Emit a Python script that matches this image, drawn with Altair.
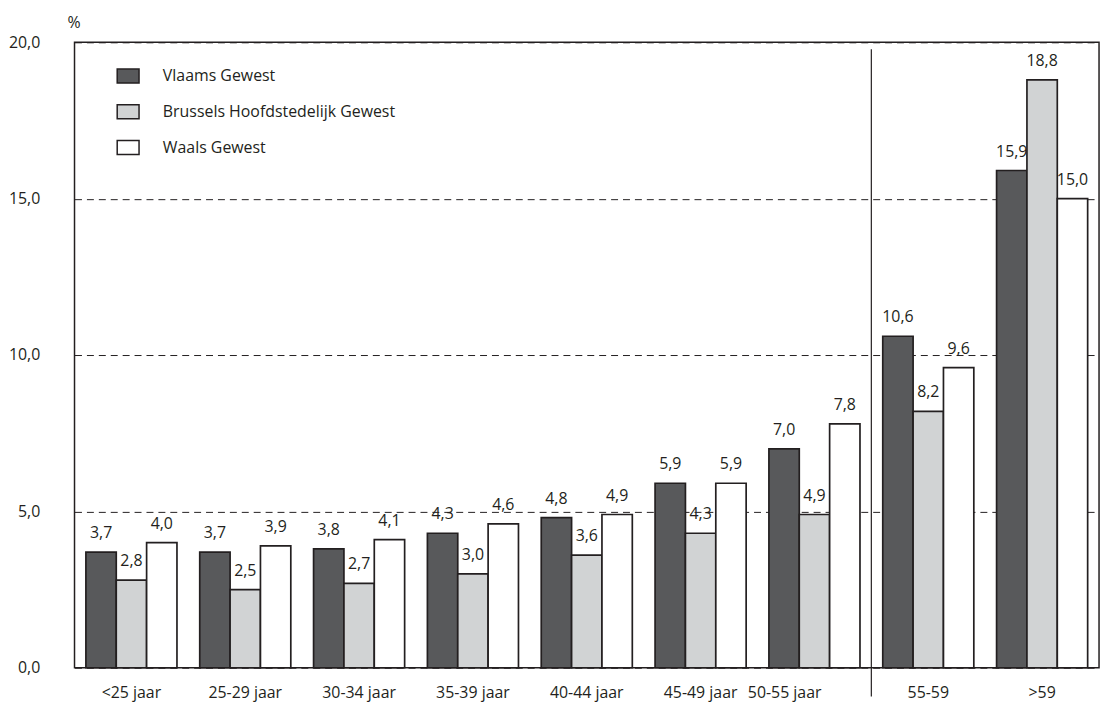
import altair as alt
import pandas as pd

groups = ["<25 jaar", "25-29 jaar", "30-34 jaar", "35-39 jaar", "40-44 jaar",
          "45-49 jaar", "50-55 jaar", "55-59", ">59"]
series = ["Vlaams Gewest", "Brussels Hoofdstedelijk Gewest", "Waals Gewest"]
vlaams = [3.7, 3.7, 3.8, 4.3, 4.8, 5.9, 7.0, 10.6, 15.9]
brussel = [2.8, 2.5, 2.7, 3.0, 3.6, 4.3, 4.9, 8.2, 18.8]
waals = [4.0, 3.9, 4.1, 4.6, 4.9, 5.9, 7.8, 9.6, 15.0]
y_ticks = [0, 5, 10, 15, 20]
separator_before = ["55-59"]

rows = []
for s, vals in zip(series, [vlaams, brussel, waals]):
    for g, v in zip(groups, vals):
        rows.append({"groep": g, "gewest": s, "waarde": v})
df = pd.DataFrame(rows)

FONT = "Open Sans"
INK = "#231f20"
FS = 16

x_scale = alt.Scale(domain=groups, paddingInner=0.2, paddingOuter=0.1)
y_scale = alt.Scale(domain=[0, 20], nice=False)

x_axis = alt.Axis(title=None, ticks=False, domain=False, labelAngle=0,
                  labelFontSize=FS, labelFont=FONT, labelColor=INK, labelPadding=17,
                  labelOffset={"condition": {"test": "datum.value === '50-55 jaar'", "value": -30}, "value": 0})
y_axis = alt.Axis(title="%", titleAngle=0, titleX=-1, titleY=-15, titleAlign="center",
                  titleBaseline="alphabetic", titleFont=FONT, titleFontSize=FS,
                  titleFontWeight="normal", titleColor=INK,
                  values=y_ticks, ticks=False, domain=False, labelPadding=35,
                  labelFontSize=FS, labelFont=FONT, labelColor=INK,
                  labelExpr="replace(format(datum.value, '.1f'), '.', ',')",
                  grid=True, gridDash=[7, 5], gridColor=INK, gridWidth=1)

base = alt.Chart(df).encode(
    x=alt.X("groep:N", scale=x_scale, axis=x_axis, sort=groups),
    xOffset=alt.XOffset("gewest:N", sort=series, scale=alt.Scale(domain=series)),
)

bars = base.mark_bar(stroke=INK, strokeWidth=1.7).encode(
    y=alt.Y("waarde:Q", scale=y_scale, axis=y_axis),
    color=alt.Color("gewest:N", sort=series,
                    scale=alt.Scale(domain=series, range=["#58595b", "#d1d3d4", "#ffffff"]),
                    legend=alt.Legend(title=None, orient="none", legendX=42, legendY=22,
                                      symbolType="M-1,-0.64H1V0.64H-1Z", symbolSize=484,
                                      symbolStrokeColor=INK, symbolStrokeWidth=1.5,
                                      labelFont=FONT, labelFontSize=FS, labelColor=INK,
                                      labelOffset=23, rowPadding=13, padding=0,
                                      labelLimit=500, symbolOpacity=1)),
)

labels = base.mark_text(font=FONT, fontSize=FS, color=INK, baseline="alphabetic", dy=-14).encode(
    y=alt.Y("waarde:Q", scale=y_scale),
    text=alt.Text("label:N"),
).transform_calculate(label="replace(format(datum.waarde, '.1f'), '.', ',')")

sep = alt.Chart(pd.DataFrame({"groep": separator_before})).mark_rule(
    color=INK, strokeWidth=1.2, clip=False, xOffset=-11.5).encode(
    x=alt.X("groep:N", scale=x_scale, bandPosition=0),
    y=alt.value(7), y2=alt.value(659),
)

chart = alt.layer(bars, labels, sep).properties(
    width=1032, height=630,
    background="white",
    autosize=alt.AutoSizeParams(type="none"),
    padding={"left": 67, "top": 32, "right": 5, "bottom": 40},
).configure_view(stroke=INK, strokeWidth=1.5)

chart.save("out.html", embed_options={"renderer": "svg", "actions": False})
